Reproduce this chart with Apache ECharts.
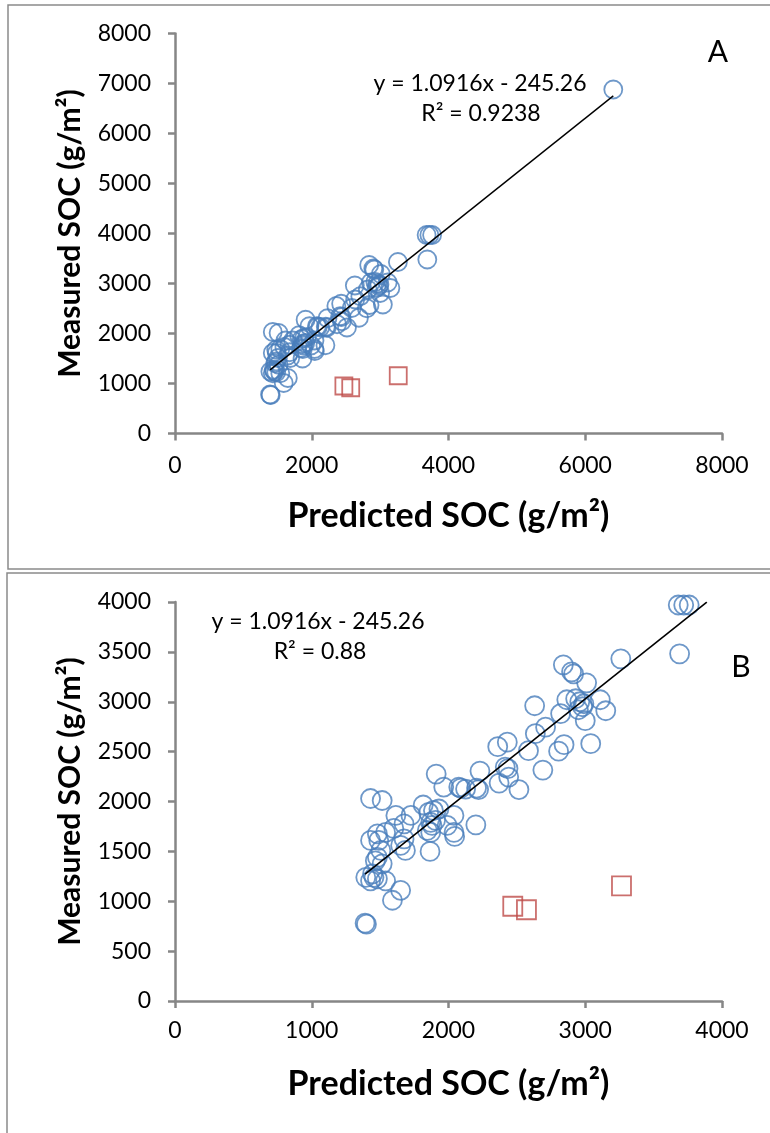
<!DOCTYPE html>
<html>
<head>
<meta charset="utf-8">
<script src="https://cdn.jsdelivr.net/npm/echarts@6/dist/echarts.min.js"></script>
<style>
html,body{margin:0;padding:0;background:#fff;}
#c{width:770px;height:1133px;}
</style>
</head>
<body>
<div id="c"></div>
<script>
// Blue circles: predicted (x) and measured (y) SOC, g/m2
const predicted = [6410,3680,3720,3760,3690,3260,2840,2900,2915,3010,3110,3150,2865,2930,2960,2980,2950,2990,2820,3000,3040,2630,2710,2635,2585,2845,2805,2690,2360,2430,2415,2435,2440,2370,2515,2230,2205,2220,2075,2090,1965,1910,2125,2200,1430,1515,1815,1615,1725,1855,1890,1930,2040,1675,1870,1880,1845,2045,1600,1540,1480,1430,1675,1650,1685,1865,1505,1480,1515,1465,1395,1455,1445,1540,1650,1590,1390,1400,1430,1480,1990,2040,1905,1870,1490];
const measured  = [6880,3970,3970,3970,3480,3430,3370,3300,3280,3190,3020,2910,3020,3030,3000,2950,2920,2980,2880,2810,2580,2960,2745,2680,2510,2570,2505,2315,2550,2595,2345,2330,2245,2185,2120,2305,2135,2120,2145,2135,2145,2275,2125,1765,2030,2010,1965,1860,1860,1890,1910,1925,1860,1775,1790,1760,1710,1650,1730,1690,1675,1610,1625,1560,1510,1500,1510,1440,1375,1405,1240,1240,1275,1205,1110,1010,780,770,1205,1225,1760,1690,1810,1690,1610];
// Red squares (outliers)
const outlierPredicted = [2470,2570,3265];
const outlierMeasured  = [950,915,1155];
// Trend line y = slope*x + intercept
const slope = 1.0916, intercept = -245.26;
const trendStartX = 1390;
const trendEndXA = 6410;
const trendEndXB = 3889;
// Axis ticks
const xTicksA = [0,2000,4000,6000,8000];
const yTicksA = [0,1000,2000,3000,4000,5000,6000,7000,8000];
const xTicksB = [0,1000,2000,3000,4000];
const yTicksB = [0,500,1000,1500,2000,2500,3000,3500,4000];
const r2A = '0.9238', r2B = '0.88';

const pts = predicted.map((x,i)=>[x,measured[i]]);
const ptsB = pts.filter(p=>p[0]<=4000 && p[1]<=4000);
const outs = outlierPredicted.map((x,i)=>[x,outlierMeasured[i]]);
const trend = (x0,x1)=>[[x0,slope*x0+intercept],[x1,slope*x1+intercept]];

const FONT = 'Lato, "Open Sans", sans-serif';
const axisGray = '#868686';
const blue = '#4A7EBB', red = '#BE4B48';

function xAx(idx, ticks, labelMargin){
  return {
    gridIndex: idx, type:'value', min: ticks[0], max: ticks[ticks.length-1], interval: ticks[1]-ticks[0],
    axisLine:{show:true, onZero:false, lineStyle:{color:axisGray, width:2.5}},
    axisTick:{show:true, length:7, lineStyle:{color:axisGray, width:2.5}},
    splitLine:{show:false},
    axisLabel:{color:'#000', fontFamily:FONT, fontSize:23, margin:labelMargin, formatter:v=>String(v)},
    name:'Predicted SOC (g/m²)', nameLocation:'middle', nameGap:66,
    nameTextStyle:{color:'#000', fontFamily:FONT, fontSize:34, fontWeight:'bold'}
  };
}
function yAx(idx, ticks){
  return {
    gridIndex: idx, type:'value', min: ticks[0], max: ticks[ticks.length-1], interval: ticks[1]-ticks[0],
    axisLine:{show:true, onZero:false, lineStyle:{color:axisGray, width:2.5}},
    axisTick:{show:true, length:7, lineStyle:{color:axisGray, width:2.5}},
    splitLine:{show:false},
    axisLabel:{color:'#000', fontFamily:FONT, fontSize:23, margin:24, formatter:v=>String(v)},
    name:'Measured SOC (g/m²)', nameLocation:'middle', nameGap:90, nameRotate:90,
    nameTextStyle:{color:'#000', fontFamily:FONT, fontSize:30, fontWeight:'bold'}
  };
}
const circleStyle = {color:'rgba(0,0,0,0)', borderColor:blue, borderWidth:1.8};
const squareStyle = {color:'rgba(0,0,0,0)', borderColor:red, borderWidth:1.8};

const chart = echarts.init(document.getElementById('c'), null, {renderer:'canvas'});
chart.setOption({
  animation:false,
  grid:[
    {left:175, top:33.5, width:547, height:400, containLabel:false, outerBoundsMode:'none'},
    {left:175, top:602, width:547, height:399, containLabel:false, outerBoundsMode:'none'}
  ],
  xAxis:[xAx(0,xTicksA,21), xAx(1,xTicksB,18)],
  yAxis:[yAx(0,yTicksA), yAx(1,yTicksB)],
  series:[
    {type:'scatter', xAxisIndex:0, yAxisIndex:0, data:pts, symbol:'circle', symbolSize:18, itemStyle:circleStyle, z:3},
    {type:'scatter', xAxisIndex:0, yAxisIndex:0, data:outs, symbol:'rect', symbolSize:17, itemStyle:squareStyle, z:3},
    {type:'line', xAxisIndex:0, yAxisIndex:0, data:trend(trendStartX,trendEndXA), symbol:'none', lineStyle:{color:'#000', width:1.4}, z:4},
    {type:'scatter', xAxisIndex:1, yAxisIndex:1, data:ptsB, symbol:'circle', symbolSize:19, itemStyle:circleStyle, z:3},
    {type:'scatter', xAxisIndex:1, yAxisIndex:1, data:outs, symbol:'rect', symbolSize:19, itemStyle:squareStyle, z:3},
    {type:'line', xAxisIndex:1, yAxisIndex:1, data:trend(trendStartX,trendEndXB), symbol:'none', lineStyle:{color:'#000', width:1.6}, z:4}
  ],
  graphic:[
    {type:'rect', shape:{x:8, y:5, width:800, height:564}, style:{fill:'none', stroke:'#8a8a8a', lineWidth:1.5}, z:-1},
    {type:'rect', shape:{x:7, y:573, width:800, height:620}, style:{fill:'none', stroke:'#8a8a8a', lineWidth:1.5}, z:-1},
    {type:'text', x:718, y:52, style:{text:'A', font:'30px '+FONT, fill:'#000', textAlign:'center', textVerticalAlign:'middle'}},
    {type:'text', x:741, y:667, style:{text:'B', font:'30px '+FONT, fill:'#000', textAlign:'center', textVerticalAlign:'middle'}},
    {type:'text', x:480, y:84, style:{text:'y = '+slope+'x - '+Math.abs(intercept), font:'23px '+FONT, fill:'#000', textAlign:'center', textVerticalAlign:'middle'}},
    {type:'text', x:481, y:114, style:{text:'R² = '+r2A, font:'23px '+FONT, fill:'#000', textAlign:'center', textVerticalAlign:'middle'}},
    {type:'text', x:318, y:622, style:{text:'y = '+slope+'x - '+Math.abs(intercept), font:'23px '+FONT, fill:'#000', textAlign:'center', textVerticalAlign:'middle'}},
    {type:'text', x:320, y:652, style:{text:'R² = '+r2B, font:'23px '+FONT, fill:'#000', textAlign:'center', textVerticalAlign:'middle'}}
  ]
});
</script>
</body>
</html>
